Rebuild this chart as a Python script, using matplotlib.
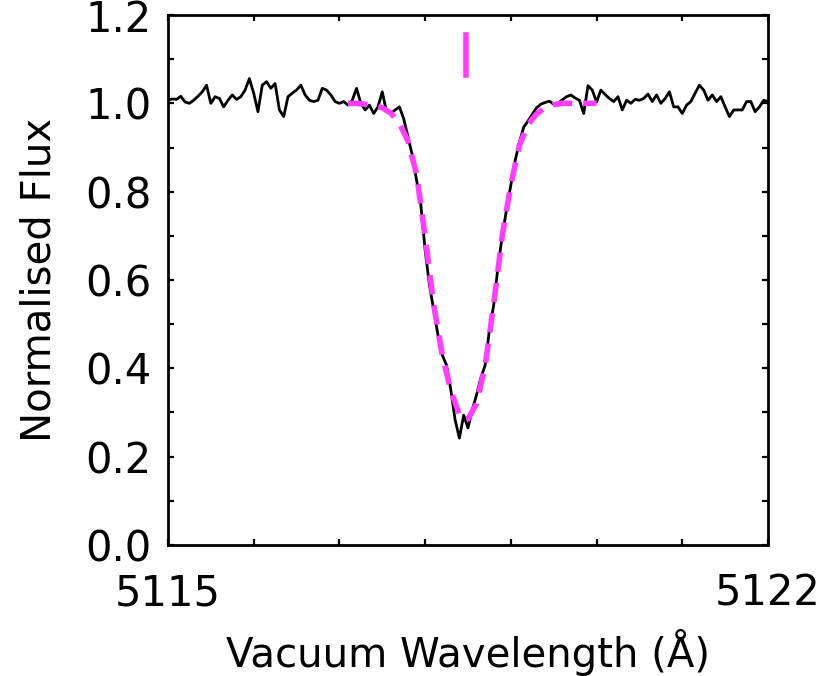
import numpy as np
import matplotlib
matplotlib.use("Agg")
import matplotlib.pyplot as plt
from matplotlib.ticker import MultipleLocator

# observed spectrum, sampled every 0.05 A
wave = np.linspace(5115.0, 5122.0, 141)
flux = [
    1.007, 1.010, 1.009, 1.016, 1.003, 1.000, 1.007, 1.016, 1.026, 1.041,
    1.000, 1.015, 1.011, 0.992, 1.007, 1.019, 1.009, 1.015, 1.030, 1.056,
    1.023, 0.981, 1.041, 1.049, 1.034, 1.045, 0.985, 0.970, 1.015, 1.023,
    1.030, 1.041, 1.019, 1.007, 1.004, 1.007, 1.034,
    1.030, 1.019, 1.004, 1.000, 1.004, 0.996, 1.007, 1.034, 1.000, 0.985,
    0.996, 0.977, 0.992, 1.026, 0.981, 0.977, 0.985, 0.992, 0.965,
    0.924, 0.883, 0.826, 0.770, 0.668, 0.589, 0.532, 0.475, 0.430, 0.407,
    0.351, 0.283, 0.242, 0.294, 0.265, 0.306, 0.340, 0.378, 0.407, 0.487,
    0.543, 0.630, 0.700, 0.760, 0.815, 0.870, 0.912, 0.946, 0.960,
    0.975, 0.990, 0.998, 1.002, 1.005, 0.998, 1.000, 1.008, 1.015, 1.019,
    1.012, 1.007, 0.977, 1.040, 1.030, 1.003, 1.030, 1.020, 1.011, 1.004,
    1.015, 0.985,
    1.007, 1.000, 1.009, 1.007, 1.011, 1.021, 1.004, 1.019, 1.000, 1.011,
    1.026, 0.992, 0.992, 0.977, 0.996, 1.004, 1.023, 1.041, 1.030, 1.007,
    1.019, 1.004, 1.015, 0.992, 0.970, 0.985, 0.985, 0.985, 1.004, 1.004,
    0.981, 0.992, 1.007, 1.004,
]

# fitted line profile
model_wave = [5117.10, 5117.20, 5117.30, 5117.40, 5117.50, 5117.60, 5117.70,
              5117.80, 5117.90, 5118.00, 5118.10, 5118.20, 5118.30, 5118.40,
              5118.45, 5118.50, 5118.60, 5118.70, 5118.80, 5118.90, 5119.00,
              5119.10, 5119.20, 5119.30, 5119.40, 5119.50, 5119.60, 5119.70,
              5119.80, 5119.90, 5120.00]
model_flux = [1.000, 1.000, 0.998, 0.995, 0.990, 0.978, 0.955,
              0.915, 0.840, 0.700, 0.545, 0.430, 0.350, 0.295,
              0.283, 0.285, 0.320, 0.405, 0.545, 0.700, 0.815,
              0.905, 0.952, 0.976, 0.990, 0.997, 1.000, 1.000,
              1.000, 1.000, 1.000]

# line position marker
line_center = 5118.48
marker_y = [1.065, 1.155]

x_ticks = [5115, 5122]
x_ticklabels = ["5115", "5122"]
y_ticks = [0.0, 0.2, 0.4, 0.6, 0.8, 1.0, 1.2]
y_ticklabels = ["0.0", "0.2", "0.4", "0.6", "0.8", "1.0", "1.2"]

magenta = "#ff3cff"

plt.rcParams["font.family"] = "DejaVu Sans"
fig = plt.figure(figsize=(8.25, 6.76), dpi=100)
ax = fig.add_axes([0.2036, 0.1938, 0.7273, 0.7840])

ax.plot(wave, flux, color="black", lw=2.0, zorder=2)
ax.plot(model_wave, model_flux, color=magenta, lw=4.0, dashes=(3.5, 2.0), zorder=3)
ax.plot([line_center, line_center], marker_y, color=magenta, lw=4.0, zorder=3)

ax.set_xlim(5115, 5122)
ax.set_ylim(0.0, 1.2)
ax.set_xticks(x_ticks)
ax.set_xticklabels(x_ticklabels)
ax.xaxis.set_minor_locator(MultipleLocator(1))
ax.set_yticks(y_ticks)
ax.set_yticklabels(y_ticklabels)
ax.yaxis.set_minor_locator(MultipleLocator(0.1))

ax.tick_params(which="both", direction="in", top=True, right=True,
               length=4.5, width=1.6, labelsize=30)
ax.tick_params(axis="x", pad=20)
ax.tick_params(axis="y", pad=12)
for s in ax.spines.values():
    s.set_linewidth(2.0)

ax.set_xlabel("Vacuum Wavelength (Å)", fontsize=29, labelpad=10)
ax.set_ylabel("Normalised Flux", fontsize=29, labelpad=18)

fig.savefig("out.png", dpi=100)
